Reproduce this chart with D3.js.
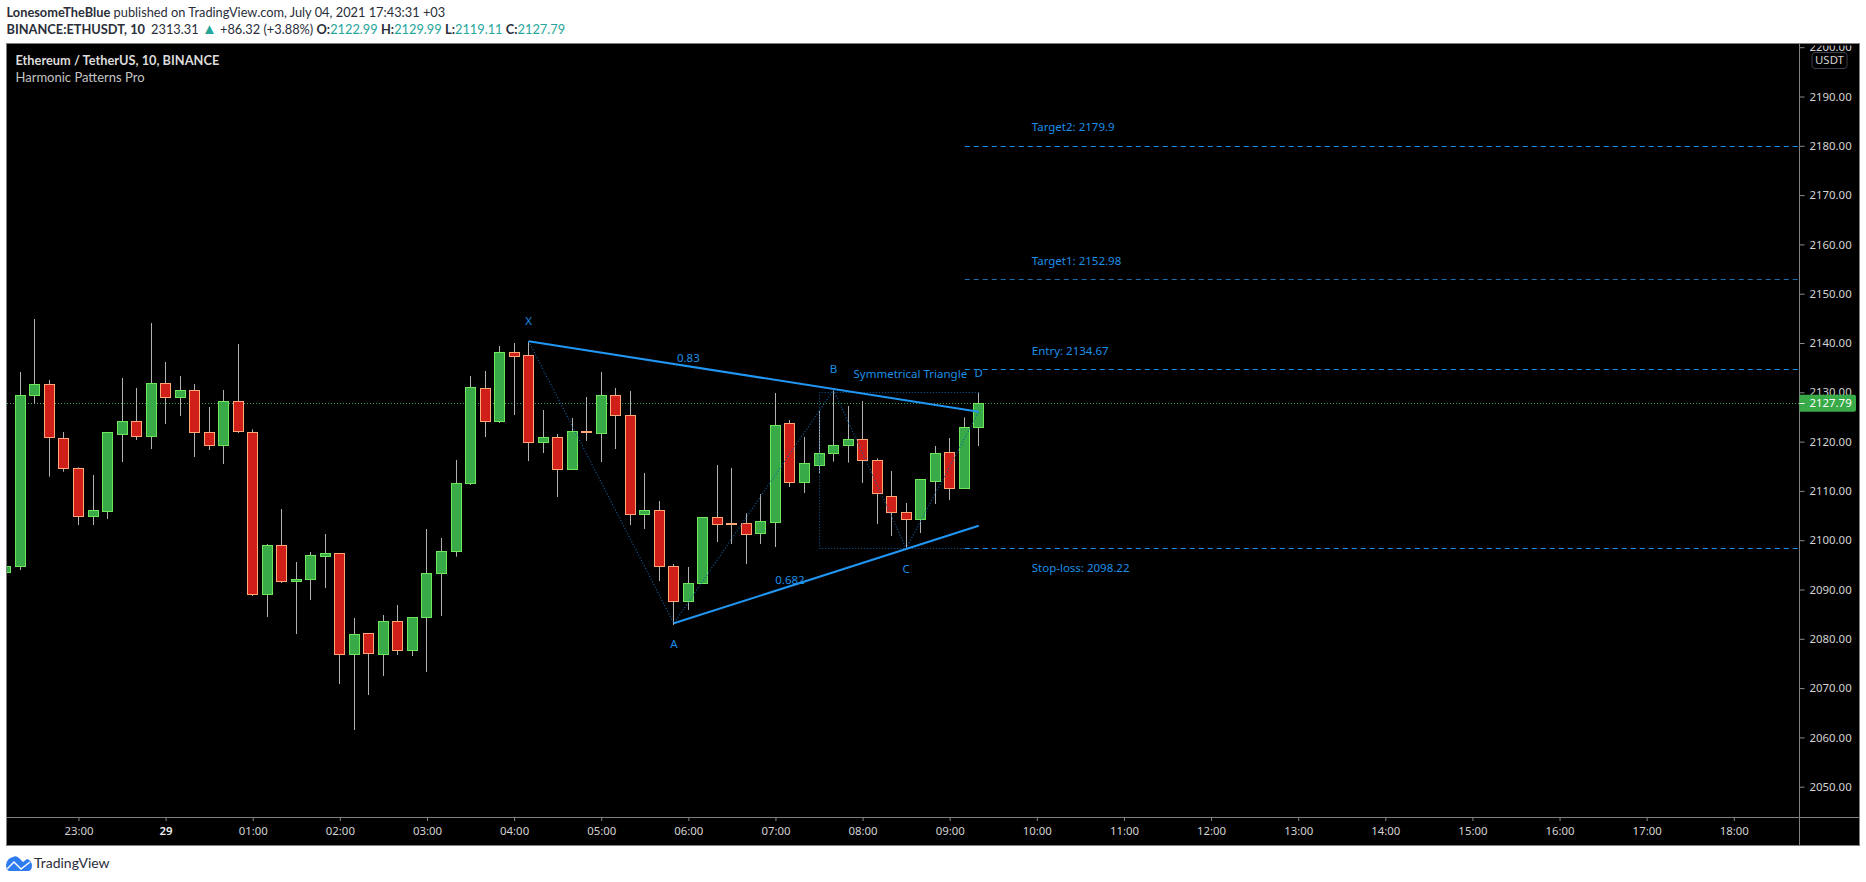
<!DOCTYPE html>
<html>
<head>
<meta charset="utf-8">
<title>ETHUSDT 10m harmonic pattern</title>
<script src="https://cdn.jsdelivr.net/npm/d3@7/dist/d3.min.js"></script>
<style>
  html, body { margin: 0; padding: 0; background: #fff; }
  svg { display: block; }
  text { font-family: "Noto Sans", sans-serif; }
  .axis path { display: none; }
  .axis line { stroke: #8a8a8a; }
  .axis text { fill: #d4d4d4; font-size: 11.4px; font-family: "Noto Sans", sans-serif; }
  .note { fill: #1e8fe6; font-size: 11.5px; font-family: "Noto Sans", sans-serif; }
  .lato { font-family: Lato, sans-serif; }
</style>
</head>
<body>
<svg id="chart" width="1866" height="882"></svg>
<script>
// First bar is the partly visible one at the left edge of the pane (bar index -1).
const firstBar = -1;
const opens = [2093.42,2094.63,2129.32,2131.61,2120.66,2114.58,2104.77,2105.79,2121.41,2124.11,2121.00,2131.82,2128.91,2130.40,2121.88,2119.17,2128.17,2121.88,2088.95,2098.96,2091.59,2092.00,2096.66,2097.34,2076.78,2081.11,2076.78,2083.54,2077.59,2084.29,2093.21,2097.67,2111.47,2130.80,2124.04,2138.11,2137.50,2119.78,2120.86,2114.31,2122.08,2121.61,2129.38,2125.33,2105.18,2106.06,2094.70,2087.53,2091.18,2104.64,2103.29,2103.42,2101.33,2103.56,2123.71,2111.67,2115.12,2117.56,2119.18,2120.46,2116.20,2108.90,2105.66,2104.17,2111.88,2117.83,2110.46,2122.99];
const closes = [2094.72,2129.38,2131.61,2120.86,2114.51,2104.77,2106.06,2121.88,2124.11,2121.00,2131.82,2128.91,2130.40,2121.81,2119.17,2128.17,2122.01,2088.95,2098.96,2091.59,2092.06,2096.93,2097.34,2076.78,2080.91,2076.99,2083.54,2077.59,2084.36,2093.28,2097.74,2111.53,2131.01,2124.04,2138.11,2137.23,2119.78,2120.86,2114.31,2122.08,2121.88,2129.38,2125.26,2105.18,2106.06,2094.63,2087.53,2091.25,2104.64,2103.15,2103.08,2101.12,2103.83,2123.30,2111.67,2115.59,2117.62,2119.25,2120.46,2116.14,2109.44,2105.59,2104.17,2112.35,2117.62,2110.46,2122.90,2127.79];
const highs = [2094.90,2134.12,2144.87,2132.49,2121.95,2114.78,2113.22,2121.88,2132.90,2130.87,2144.05,2136.14,2133.30,2131.68,2127.02,2130.47,2139.80,2122.49,2099.23,2106.33,2095.58,2097.61,2101.26,2097.34,2084.22,2081.11,2084.83,2086.86,2084.36,2102.27,2100.45,2116.27,2133.30,2134.32,2139.39,2140.00,2140.34,2126.41,2121.54,2124.79,2129.05,2134.12,2130.87,2130.26,2113.63,2107.95,2095.17,2094.56,2104.64,2115.25,2114.64,2105.45,2109.37,2129.86,2124.38,2120.94,2126.21,2130.47,2127.22,2128.24,2116.61,2114.04,2107.55,2112.35,2119.11,2120.73,2124.92,2129.99];
const lows = [2093.40,2093.96,2127.76,2112.89,2113.90,2103.08,2103.08,2104.30,2115.86,2120.32,2118.50,2123.57,2125.19,2116.88,2118.30,2115.46,2121.74,2088.68,2084.42,2091.32,2080.97,2087.87,2090.30,2070.83,2061.50,2068.60,2072.46,2076.72,2076.51,2073.27,2084.63,2096.66,2111.20,2120.93,2123.77,2125.39,2116.06,2117.69,2108.76,2114.31,2120.12,2115.86,2118.50,2103.08,2102.27,2091.72,2082.80,2085.84,2091.18,2099.64,2099.23,2095.17,2099.23,2098.62,2110.79,2109.58,2113.57,2115.93,2115.73,2111.61,2103.29,2100.86,2098.35,2101.46,2107.35,2108.16,2110.46,2119.11];

const priceTicks = [2050,2060,2070,2080,2090,2100,2110,2120,2130,2140,2150,2160,2170,2180,2190,2200];
const timeBars = [4,10,16,22,28,34,40,46,52,58,64,70,76,82,88,94,100,106,112,118];
const timeLabels = ["23:00","29","01:00","02:00","03:00","04:00","05:00","06:00","07:00","08:00","09:00","10:00","11:00","12:00","13:00","14:00","15:00","16:00","17:00","18:00"];

const lastPrice = 2127.79;

// Trade levels projected from the pattern.
const levelNames = ["Target2: 2179.9","Target1: 2152.98","Entry: 2134.67","Stop-loss: 2098.22"];
const levelPrices = [2179.9,2152.98,2134.67,2098.22];
const levelColors = ["#1e8fe6","#1c6bad","#1e8fe6","#1e8fe6"];
const levelLabelPrices = [2183.8,2156.7,2138.4,2094.45];

// Pattern pivots: bar index and price for X, A, B, C, D.
const pivotNames = ["X","A","B","C","D"];
const pivotBars = [35,45,56,61,66];
const pivotPrices = [2140.34,2083.14,2130.47,2098.35,2126.07];
const pivotLabelPrices = [2144.5,2078.9,2134.8,2094.2,2133.85];
// Triangle sides: upper X to D, lower A to the last bar.
const lowerEndPrice = 2102.94;
// Fib ratios printed along the sides.
const ratioLabels = ["0.83","0.682"];
const ratioBars = [46,53];
const ratioPrices = [2137.0,2092.0];
// Extent of the dotted box around B, C and D.
const boxBars = [55,66];
const boxPrices = [2098.22,2130.0];

const pane = { left: 7, top: 43.5, right: 1799.5, bottom: 817, outerRight: 1859.5, outerBottom: 845.5 };
const x = d3.scaleLinear().domain([0,118]).range([20.4,1733.8]);
const y = d3.scaleLinear().domain([2179.9,2127.79]).range([146.3,403.2]);

const svg = d3.select("#chart");
const snap = v => Math.round(v - 0.5) + 0.5;

// Frame and background
svg.append("rect").attr("x",pane.left-0.5).attr("y",pane.top)
  .attr("width",pane.outerRight-pane.left+0.5).attr("height",pane.outerBottom-pane.top)
  .attr("fill","#000").attr("stroke","#808080");

const defs = svg.append("defs");
defs.append("clipPath").attr("id","plot").append("rect")
  .attr("x",pane.left).attr("y",pane.top).attr("width",pane.right-pane.left).attr("height",pane.bottom-pane.top);
defs.append("clipPath").attr("id","priceStrip").append("rect")
  .attr("x",pane.right).attr("y",pane.top+2).attr("width",pane.outerRight-pane.right).attr("height",pane.bottom-pane.top);

// Axes
const yAxis = d3.axisRight(y).tickValues(priceTicks).tickSize(5).tickPadding(5).tickFormat(d3.format(".2f"));
svg.append("g").attr("clip-path","url(#priceStrip)")
  .append("g").attr("class","axis").attr("transform",`translate(${pane.right},0)`).call(yAxis);
const xAxis = d3.axisBottom(x).tickValues(timeBars).tickSize(4).tickPadding(6)
  .tickFormat((d,i) => timeLabels[i]);
const xG = svg.append("g").attr("class","axis").attr("transform",`translate(0,${pane.bottom})`).call(xAxis);
xG.selectAll("text").filter(d => d === 10).style("font-weight",600).style("fill","#eee");

svg.append("line").attr("x1",pane.right).attr("x2",pane.right).attr("y1",pane.top).attr("y2",pane.outerBottom).attr("stroke","#808080");
svg.append("line").attr("x1",pane.left).attr("x2",pane.outerRight).attr("y1",pane.bottom+0.5).attr("y2",pane.bottom+0.5).attr("stroke","#808080");

const plot = svg.append("g").attr("clip-path","url(#plot)");

// Last price line sits behind the candles
plot.append("line").attr("x1",pane.left).attr("x2",pane.right)
  .attr("y1",snap(y(lastPrice))).attr("y2",snap(y(lastPrice)))
  .attr("stroke","#3fa858").attr("stroke-dasharray","1 2");

// Candles
const bars = opens.map((o,i) => ({ bar: firstBar+i, o, c: closes[i], h: highs[i], l: lows[i] }));
const candle = plot.selectAll("g.candle").data(bars).join("g").attr("class","candle");
candle.append("line")
  .attr("x1",d => snap(x(d.bar))).attr("x2",d => snap(x(d.bar)))
  .attr("y1",d => y(d.h)).attr("y2",d => y(d.l))
  .attr("stroke","#b2b2b2");
candle.append("rect")
  .attr("x",d => snap(x(d.bar))-5).attr("width",10)
  .attr("y",d => snap(y(Math.max(d.o,d.c))))
  .attr("height",d => Math.max(1,Math.round(Math.abs(y(d.o)-y(d.c)))))
  .attr("fill",d => d.c >= d.o ? "#38ab48" : "#d01e18")
  .attr("stroke",d => d.c >= d.o ? "#6fe65c" : "#ffa878");

// Dotted zigzag through the pivots
const pivotLine = d3.line().x((d,i) => x(pivotBars[i])).y(d => y(d));
plot.append("path").attr("d",pivotLine(pivotPrices)).attr("fill","none")
  .attr("stroke","#0f5c9e").attr("stroke-width",1.2).attr("stroke-dasharray","1 2");

// Dotted box around the last legs
plot.append("path")
  .attr("d",`M${x(boxBars[1])},${snap(y(boxPrices[1]))}H${snap(x(boxBars[0]))}V${snap(y(boxPrices[0]))}H${x(boxBars[1])}`)
  .attr("fill","none").attr("stroke","#0f5c9e").attr("stroke-dasharray","1 2");

// Triangle sides
const sideStyle = s => s.attr("stroke","#2196f3").attr("stroke-width",2).attr("fill","none");
plot.append("line").attr("x1",x(pivotBars[0])).attr("y1",y(pivotPrices[0]))
  .attr("x2",x(pivotBars[4])).attr("y2",y(pivotPrices[4])).call(sideStyle);
plot.append("line").attr("x1",x(pivotBars[1])).attr("y1",y(pivotPrices[1]))
  .attr("x2",x(pivotBars[4])).attr("y2",y(lowerEndPrice)).call(sideStyle);

// Level lines
plot.selectAll("line.level").data(levelPrices).join("line").attr("class","level")
  .attr("x1",x(pivotBars[4])-14).attr("x2",pane.right)
  .attr("y1",d => snap(y(d))).attr("y2",d => snap(y(d)))
  .attr("stroke",(d,i) => levelColors[i]).attr("stroke-dasharray","5 4");

// Annotations
plot.selectAll("text.level").data(levelNames).join("text").attr("class","note level")
  .attr("x",x(pivotBars[4])+53).attr("y",(d,i) => y(levelLabelPrices[i]))
  .attr("dy","0.35em").text(d => d);
plot.selectAll("text.pivot").data(pivotNames).join("text").attr("class","note pivot")
  .attr("x",(d,i) => x(pivotBars[i])).attr("y",(d,i) => y(pivotLabelPrices[i]))
  .attr("dy","0.35em").attr("text-anchor","middle").text(d => d);
plot.selectAll("text.ratio").data(ratioLabels).join("text").attr("class","note ratio")
  .attr("x",(d,i) => x(ratioBars[i])).attr("y",(d,i) => y(ratioPrices[i]))
  .attr("dy","0.35em").attr("text-anchor","middle").text(d => d);
plot.append("text").attr("class","note").attr("x",x(66)-11.6).attr("y",y(2133.7))
  .attr("dy","0.35em").attr("text-anchor","end").text("Symmetrical Triangle");

// Legend inside the pane
svg.append("text").attr("class","lato").attr("x",15.5).attr("y",65).attr("fill","#dcdcdc").attr("font-size",12.8).attr("font-weight",700)
  .text("Ethereum / TetherUS, 10, BINANCE");
svg.append("text").attr("class","lato").attr("x",15.5).attr("y",82).attr("fill","#c4c4c4").attr("font-size",13)
  .text("Harmonic Patterns Pro");

// Currency badge
svg.append("rect").attr("x",1812).attr("y",52.5).attr("width",35).attr("height",16).attr("rx",3)
  .attr("fill","#000").attr("stroke","#3a3f4b");
svg.append("text").attr("x",1829.5).attr("y",60.5).attr("dy","0.35em").attr("text-anchor","middle")
  .attr("fill","#d4d4d4").attr("font-size",11.4).text("USDT");

// Last price tag
const tagY = y(lastPrice);
svg.append("path")
  .attr("d",`M${pane.right},${tagY-8.5}H1854a2,2 0 0 1 2,2V${tagY+6.5}a2,2 0 0 1 -2,2H${pane.right}Z`)
  .attr("fill","#38ab48");
svg.append("line").attr("x1",pane.right).attr("x2",pane.right+5).attr("y1",snap(tagY)).attr("y2",snap(tagY)).attr("stroke","#fff");
svg.append("text").attr("x",pane.right+10).attr("y",tagY).attr("dy","0.35em").attr("fill","#fff").attr("font-size",11.4)
  .text(d3.format(".2f")(lastPrice));

// Page header
const head = svg.append("g").attr("class","lato").attr("font-size",12.8).attr("fill","#2a2e39");
const row1 = head.append("text").attr("class","lato").attr("x",6.5).attr("y",17);
row1.append("tspan").attr("font-weight",700).text("LonesomeTheBlue");
row1.append("tspan").text(" published on TradingView.com, July 04, 2021 17:43:31 +03");
const row2 = head.append("text").attr("class","lato").attr("x",6.5).attr("y",34);
row2.append("tspan").attr("font-weight",700).text("BINANCE:ETHUSDT, 10");
row2.append("tspan").attr("dx",6).text("2313.31 ");
row2.append("tspan").attr("fill","#26a69a").attr("font-size",15).text("▲");
row2.append("tspan").text(" +86.32 (+3.88%) ");
[["O:","2122.99"],["H:","2129.99"],["L:","2119.11"],["C:","2127.79"]].forEach(([k,v]) => {
  row2.append("tspan").attr("font-weight",700).text(k);
  row2.append("tspan").attr("fill","#26a69a").text(v + " ");
});

// Footer brand
svg.append("path").attr("fill","#2f7cf0")
  .attr("d","M6,865 Q7,858 13,857 Q16,855 19,858 L23,862 L27,859 Q31,860 32,865 Q32,871 28,871 L10,871 Q6,871 6,865Z");
svg.append("path").attr("fill","none").attr("stroke","#fff").attr("stroke-width",1.4)
  .attr("d","M7,869 L14,862 L21,869 L30,862");
svg.append("text").attr("class","lato").attr("x",34).attr("y",868).attr("font-size",14).attr("fill","#2a2e39")
  .text("TradingView");
</script>
</body>
</html>
